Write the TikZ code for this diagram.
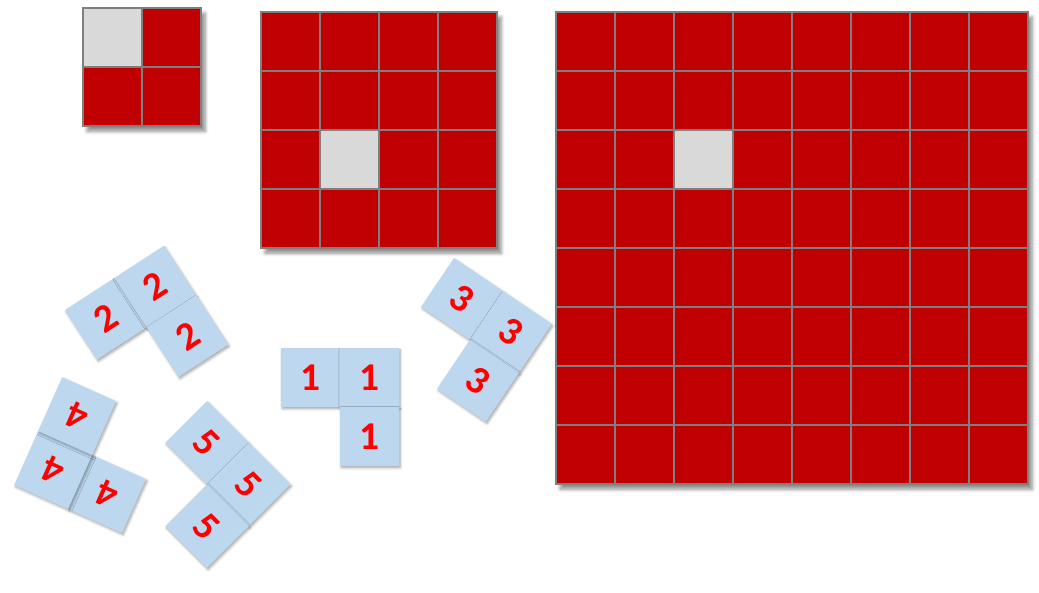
\documentclass[tikz,border=0pt]{standalone}
\usepackage{fontspec}
\newfontfamily\tilefont{Carlito}
\usepackage{tikz}
\usetikzlibrary{positioning,shadows.blur}
\definecolor{BoardRed}{HTML}{C00000}
\definecolor{BoardGray}{HTML}{7F7F7F}
\definecolor{HoleGray}{HTML}{D9D9D9}
\definecolor{TileBlue}{HTML}{BDD7EE}
\definecolor{TileRed}{HTML}{FF0000}
\tikzset{
    % Board cell style
    cellnode/.style={
        draw=BoardGray,
        fill=BoardRed,
        line width=1pt,
        minimum size=1cm,
        inner sep=0pt
    },
    % Missing cell
    holenode/.style={
        cellnode,
        fill=HoleGray
    },
    % Shadow under a board
    boardshadow/.style={
        fill=BoardGray,
        blur shadow={shadow xshift=2pt, shadow yshift=-2.5pt, shadow blur steps=6, shadow opacity=45}
    },
    % Tromino tile
    tilenode/.style={
        fill=TileBlue,
        minimum size=1cm,
        inner sep=0pt,
        text=TileRed,
        font=\tilefont\bfseries\fontsize{19}{19}\selectfont,
        blur shadow={shadow xshift=0.6pt, shadow yshift=-0.9pt, shadow blur steps=4, shadow blur radius=1.2pt, shadow opacity=35}
    }
}

\begin{document}
\begin{tikzpicture}
    \useasboundingbox (0,0) rectangle (17.61,-10.05);

    % 2x2 board
    \begin{scope}[shift={(1.407,-0.136)}]
        \fill[boardshadow] (0,0) rectangle (2,-2);
        \foreach \i in {0,1}
            \foreach \j in {0,1}
                \node[cellnode] (small-\i-\j) at (\i+0.5,-\j-0.5) {};
        \node[holenode] (small-hole) at (small-0-0) {};
    \end{scope}

    % 4x4 board
    \begin{scope}[shift={(4.424,-0.203)}]
        \fill[boardshadow] (0,0) rectangle (4,-4);
        \foreach \i in {0,...,3}
            \foreach \j in {0,...,3}
                \node[cellnode] (mid-\i-\j) at (\i+0.5,-\j-0.5) {};
        \node[holenode] (mid-hole) at (mid-1-2) {};
    \end{scope}

    % 8x8 board
    \begin{scope}[shift={(9.424,-0.203)}]
        \fill[boardshadow] (0,0) rectangle (8,-8);
        \foreach \i in {0,...,7}
            \foreach \j in {0,...,7}
                \node[cellnode] (big-\i-\j) at (\i+0.5,-\j-0.5) {};
        \node[holenode] (big-hole) at (big-2-2) {};
    \end{scope}

    % trominoes
    \begin{scope}[shift={(4.763,-5.898)}]
        \node[tilenode] (one-a) at (0.5,-0.5) {1};
        \node[tilenode] (one-b) at (1.5,-0.5) {1};
        \node[tilenode] (one-c) at (1.5,-1.5) {1};
    \end{scope}
    \begin{scope}[shift={(1.102,-5.254)}, rotate=33, transform shape]
        \node[tilenode] (two-a) at (0.5,-0.5) {2};
        \node[tilenode] (two-b) at (1.5,-0.5) {2};
        \node[tilenode] (two-c) at (1.5,-1.5) {2};
    \end{scope}
    \begin{scope}[shift={(7.695,-4.373)}, rotate=-34, transform shape]
        \node[tilenode] (three-a) at (0.5,-0.5) {3};
        \node[tilenode] (three-b) at (1.5,-0.5) {3};
        \node[tilenode] (three-c) at (1.5,-1.5) {3};
    \end{scope}
    \begin{scope}[shift={(2.068,-9.034)}, rotate=156, transform shape]
        \node[tilenode] (four-a) at (0.5,-0.5) {4};
        \node[tilenode] (four-b) at (1.5,-0.5) {4};
        \node[tilenode] (four-c) at (1.5,-1.5) {4};
    \end{scope}
    \begin{scope}[shift={(3.508,-6.797)}, rotate=-45, transform shape]
        \node[tilenode] (five-a) at (0.5,-0.5) {5};
        \node[tilenode] (five-b) at (1.5,-0.5) {5};
        \node[tilenode] (five-c) at (1.5,-1.5) {5};
    \end{scope}
\end{tikzpicture}
\end{document}
